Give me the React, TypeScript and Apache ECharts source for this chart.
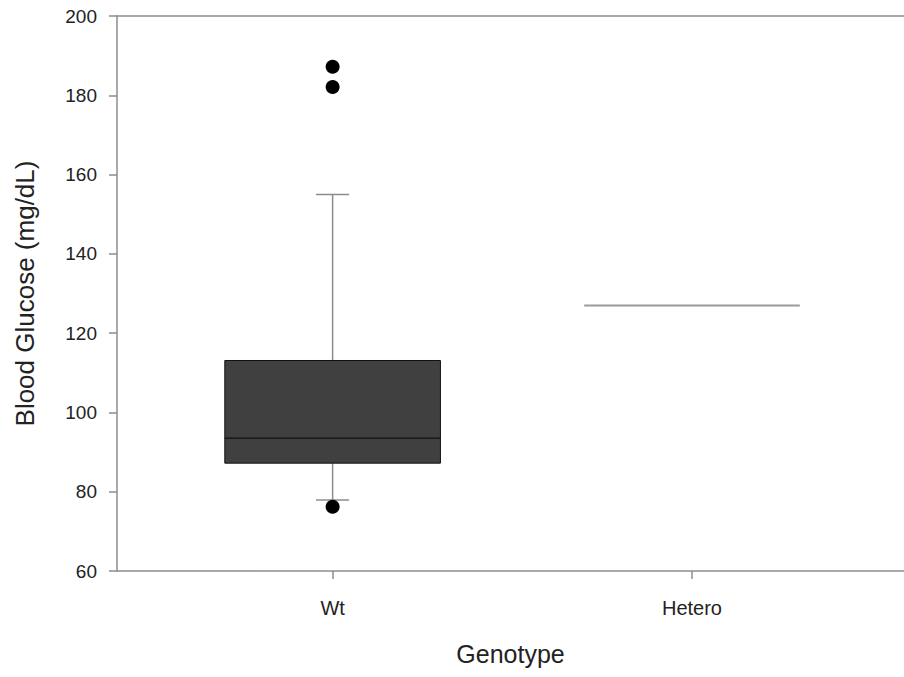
import React, { useEffect, useRef } from "react";
import * as echarts from "echarts";

const categories = ["Wt", "Hetero"];
const positions = [1, 2];
// [lower whisker, Q1, median, Q3, upper whisker]
const boxStats = [
  [77.9, 87.2, 93.5, 113.1, 155],
  [127, 127, 127, 127, 127],
];
const outlierX = [1, 1, 1];
const outlierY = [187.2, 182.1, 76.2];
const yTicks = [60, 80, 100, 120, 140, 160, 180, 200];

export default function App() {
  const ref = useRef<HTMLDivElement>(null);
  useEffect(() => {
    if (!ref.current) return;
    const chart = echarts.init(ref.current, null, { renderer: "svg" });
    const boxData = positions.map((p, i) => [p, ...boxStats[i]]);
    const outData = outlierX.map((x, i) => [x, outlierY[i]]);
    const font = "'Liberation Sans', Arial, sans-serif";
    const gray = "#8c8c8c";
    chart.setOption({
      animation: false,
      backgroundColor: "#fff",
      grid: { left: 117, right: 0, top: 16, bottom: 106 },
      xAxis: [
        {
          type: "value",
          min: 0.4,
          max: 2.59,
          position: "bottom",
          name: "Genotype",
          nameLocation: "middle",
          nameGap: 70,
          nameTextStyle: { fontSize: 25, color: "#222", fontFamily: font },
          axisLine: { show: true, lineStyle: { color: gray, width: 1.5 } },
          axisTick: { show: true, length: 8, customValues: positions, lineStyle: { color: gray, width: 1.5 } },
          axisLabel: {
            show: true,
            customValues: positions,
            margin: 27,
            fontSize: 20,
            color: "#222",
            fontFamily: font,
            formatter: (v: number) => categories[positions.indexOf(Math.round(v))] ?? "",
          },
          splitLine: { show: false },
        },
        {
          type: "value",
          min: 0.4,
          max: 2.59,
          position: "top",
          axisLine: { show: true, lineStyle: { color: gray, width: 1.5 } },
          axisTick: { show: false },
          axisLabel: { show: false },
          splitLine: { show: false },
        },
      ],
      yAxis: {
        type: "value",
        min: 60,
        max: 200,
        interval: 20,
        name: "Blood Glucose (mg/dL)",
        nameLocation: "middle",
        nameGap: 79,
        nameTextStyle: { fontSize: 26, color: "#222", fontFamily: font },
        axisLine: { show: true, lineStyle: { color: gray, width: 1.5 } },
        axisTick: { show: true, length: 8, lineStyle: { color: gray, width: 1.5 } },
        axisLabel: {
          margin: 20,
          fontSize: 19,
          color: "#222",
          fontFamily: font,
          formatter: (v: number) => (yTicks.includes(v) ? String(v) : ""),
        },
        splitLine: { show: false },
      },
      series: [
        {
          type: "custom",
          xAxisIndex: 0,
          data: boxData,
          renderItem: (params: any, api: any) => {
            const x = api.value(0);
            const lo = api.value(1), q1 = api.value(2), med = api.value(3), q3 = api.value(4), hi = api.value(5);
            const cx = api.coord([x, med])[0];
            const w = api.size([0.6, 0])[0];
            const capW = api.size([0.092, 0])[0];
            const yLo = api.coord([x, lo])[1];
            const yQ1 = api.coord([x, q1])[1];
            const yMed = api.coord([x, med])[1];
            const yQ3 = api.coord([x, q3])[1];
            const yHi = api.coord([x, hi])[1];
            const children: any[] = [];
            if (q3 - q1 < 1e-9) {
              children.push({
                type: "line",
                shape: { x1: cx - w / 2, y1: yMed, x2: cx + w / 2, y2: yMed },
                style: { stroke: "#9a9a9a", lineWidth: 2 },
              });
              return { type: "group", children };
            }
            children.push(
              { type: "line", shape: { x1: cx, y1: yQ3, x2: cx, y2: yHi }, style: { stroke: gray, lineWidth: 1.5 } },
              { type: "line", shape: { x1: cx - capW / 2, y1: yHi, x2: cx + capW / 2, y2: yHi }, style: { stroke: gray, lineWidth: 1.5 } },
              { type: "line", shape: { x1: cx, y1: yQ1, x2: cx, y2: yLo }, style: { stroke: gray, lineWidth: 1.5 } },
              { type: "line", shape: { x1: cx - capW / 2, y1: yLo, x2: cx + capW / 2, y2: yLo }, style: { stroke: gray, lineWidth: 1.5 } },
              {
                type: "rect",
                shape: { x: cx - w / 2, y: yQ3, width: w, height: yQ1 - yQ3 },
                style: { fill: "#404040", stroke: "#111", lineWidth: 1 },
              },
              { type: "line", shape: { x1: cx - w / 2, y1: yMed, x2: cx + w / 2, y2: yMed }, style: { stroke: "#111", lineWidth: 1.2 } }
            );
            return { type: "group", children };
          },
          z: 2,
        },
        {
          type: "scatter",
          xAxisIndex: 0,
          data: outData,
          symbol: "circle",
          symbolSize: 14,
          itemStyle: { color: "#000", opacity: 1 },
          z: 3,
        },
      ],
    });
    return () => chart.dispose();
  }, []);
  return <div ref={ref} style={{ width: 904, height: 677, position: "absolute", left: 0, top: 0 }} />;
}
